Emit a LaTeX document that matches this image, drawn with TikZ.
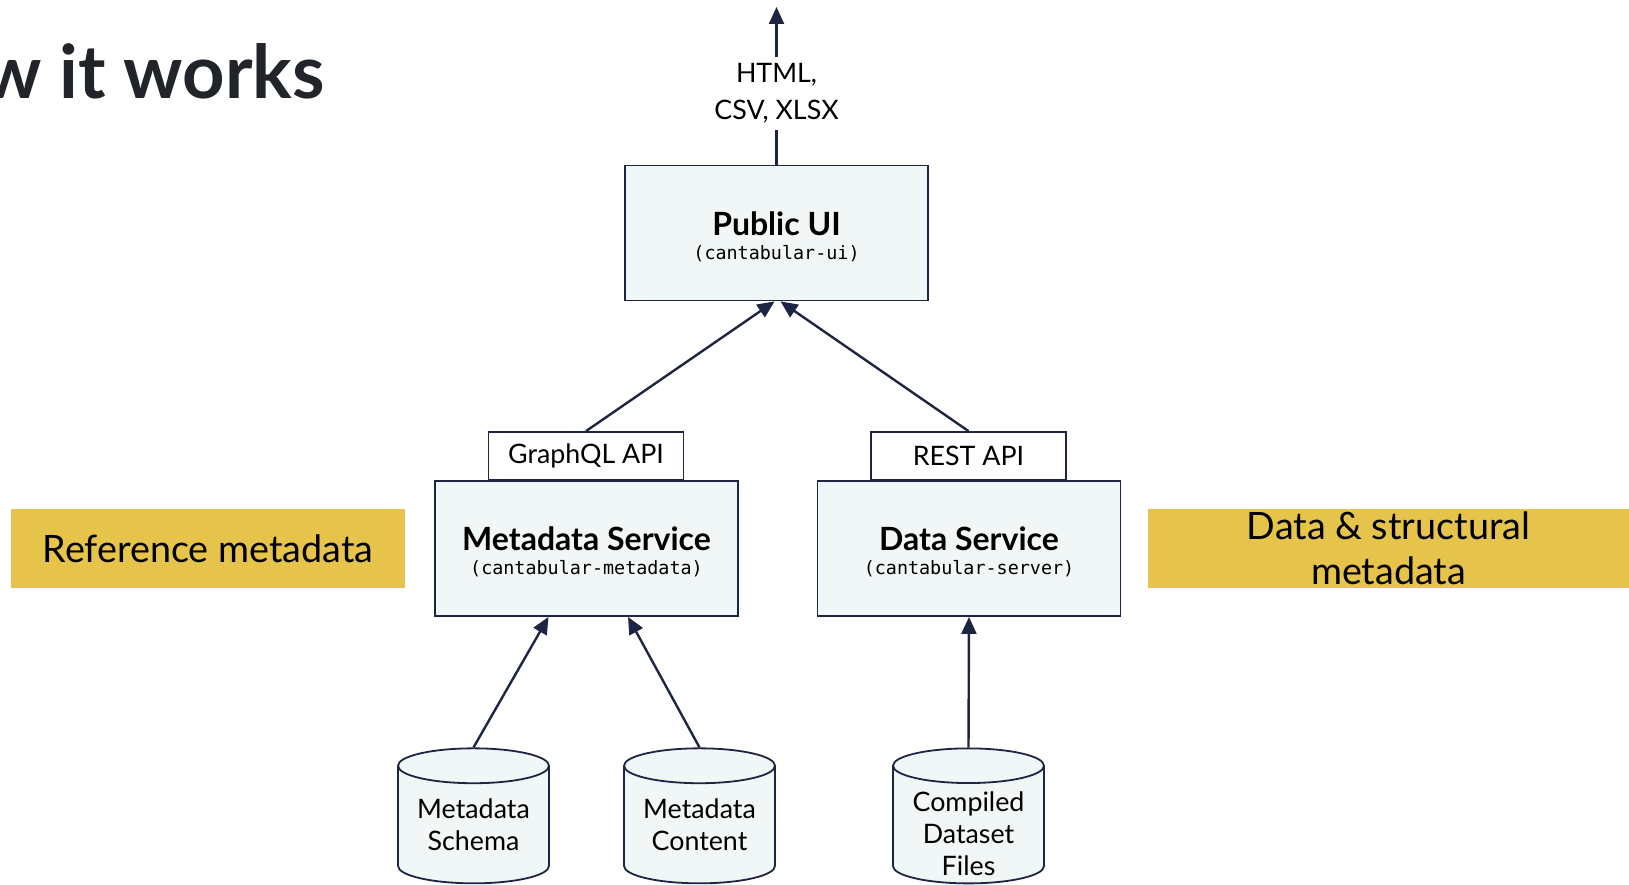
\documentclass[tikz,border=0pt]{standalone}
\usepackage{fontspec}
\setmainfont{Lato}
\setmonofont{DejaVu Sans Mono}
\usetikzlibrary{positioning,shapes.geometric,arrows.meta}

\definecolor{navy}{HTML}{1E2443}
\definecolor{boxfill}{HTML}{F1F6F6}
\definecolor{gold}{HTML}{E6C34A}
\definecolor{titleink}{HTML}{212529}

\newcommand{\svctitle}[2]{\rule{0pt}{31pt}{\fontsize{32}{34}\selectfont\bfseries #1}\\[-8pt]
    {\ttfamily\fontsize{18.4}{20}\selectfont (#2)}}

\begin{document}
\begin{tikzpicture}[x=1pt, y=-1pt,
        every node/.style={font=\fontsize{26.8}{32}\selectfont, text=black},
        svcbox/.style={draw=navy, line width=1.8pt, fill=boxfill, align=center,
            minimum width=303pt, minimum height=135pt},
        apibox/.style={draw=navy, line width=1.8pt, fill=white,
            minimum width=195pt, minimum height=48pt, inner sep=0pt},
        dbstore/.style={cylinder, shape border rotate=90, aspect=0.31,
            draw=navy, line width=1.8pt, fill=boxfill, align=center,
            minimum width=151pt, minimum height=135pt, inner sep=0pt},
        tagbox/.style={fill=gold, align=center, inner sep=0pt,
            font=\fontsize{37.7}{45}\selectfont},
        flowarrow/.style={draw=navy, line width=2.4pt,
            -{Triangle[length=17pt, width=15pt]}}]

        % Rahmen
        \useasboundingbox (0,0) rectangle (1629,885);
        \clip (0,0) rectangle (1629,885);

        % Titel
        \node[anchor=base east, text=titleink, inner sep=0pt,
            font=\fontsize{74}{80}\selectfont\bfseries] (title) at (325,99) {How it works};

        % Dienste
        \node[svcbox] (pubui) at (776.5,233) {\svctitle{Public UI}{cantabular-ui}};
        \node[svcbox] (metasvc) at (586.5,548.5) {\svctitle{Metadata Service}{cantabular-metadata}};
        \node[svcbox] (datasvc) at (969,548.5) {\svctitle{Data Service}{cantabular-server}};

        % Schnittstellen
        \node[apibox] (graphql) at (586,456) {GraphQL API};
        \node[apibox] (rest) at (968.5,456) {REST API};

        % Datenquellen
        \node[dbstore] (schema) at (473.5,825) {Metadata\\Schema};
        \node[dbstore] (content) at (699.5,825) {Metadata\\Content};
        \node[dbstore] (compiled) at (968.5,825)
            {\raisebox{-18.5pt}[30pt][30pt]{\begin{tabular}{@{}c@{}}Compiled\\Dataset\\Files\end{tabular}}};

        % Seitenbeschriftungen
        \node[tagbox, minimum width=394pt, minimum height=79pt] (refmeta)
            at (208,548.5) {Reference metadata};
        \node[tagbox, minimum width=481pt, minimum height=79pt] (structmeta)
            at (1388.5,548.5) {Data \& structural\\metadata};

        % Ausgabe
        \node[align=center, inner sep=6pt, font=\fontsize{26.8}{37}\selectfont]
            (formats) at (776.5,93.5) {HTML,\\CSV, XLSX};
        \coordinate (out) at (776.5,7);
        \draw[navy, line width=2.4pt] (pubui.north) -- (formats.south);
        \draw[flowarrow] (formats.north) -- (out);

        % Pfeile
        \draw[flowarrow] (graphql.north) -- ([xshift=-2pt]pubui.south);
        \draw[flowarrow] (rest.north) -- ([xshift=4pt]pubui.south);
        \draw[flowarrow] (schema.north) -- ([xshift=-38pt]metasvc.south);
        \draw[flowarrow] (content.north) -- ([xshift=41.5pt]metasvc.south);
        \draw[flowarrow] (compiled.north) -- (datasvc.south);
    \end{tikzpicture}
\end{document}
